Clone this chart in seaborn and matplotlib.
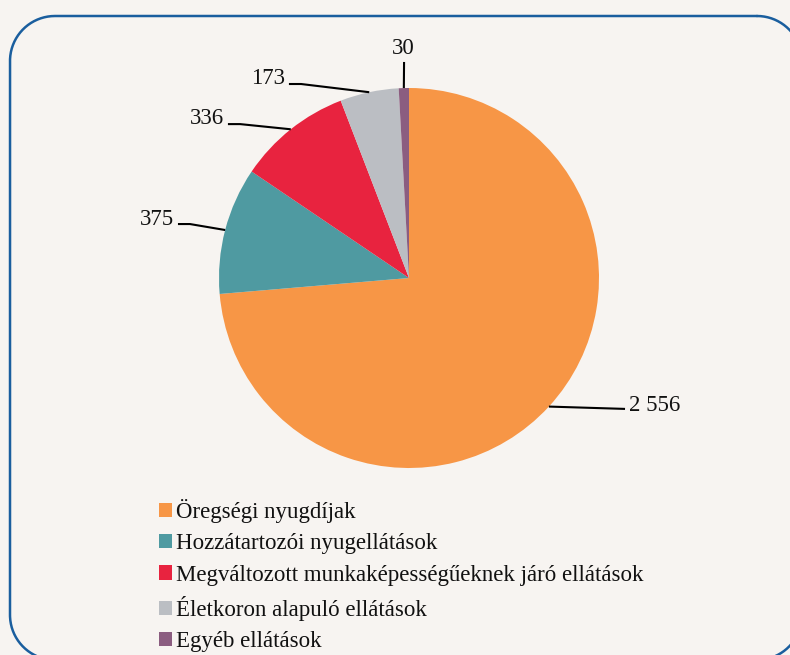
import matplotlib
matplotlib.use("Agg")
import matplotlib.pyplot as plt
import seaborn as sns
import numpy as np
from matplotlib.patches import Patch
from matplotlib.lines import Line2D

categories = ["Öregségi nyugdíjak", "Hozzátartozói nyugellátások",
              "Megváltozott munkaképességűeknek járó ellátások",
              "Életkoron alapuló ellátások", "Egyéb ellátások"]
values = [2556, 375, 336, 173, 30]
value_labels = ["2 556", "375", "336", "173", "30"]
colors = ["#F79646", "#4F9AA1", "#E8233F", "#BBBEC3", "#8B5D80"]

# layout for labels: (elbow_x, elbow_y, end_x, end_y, text_x, text_y, ha)
label_layout = [
    (1.137, -0.689, 1.137, -0.689, 1.16, -0.672, "left"),
    (-1.153, 0.284, -1.216, 0.284, -1.235, 0.31, "right"),
    (-0.889, 0.81, -0.953, 0.81, -0.975, 0.84, "right"),
    (-0.568, 1.021, -0.632, 1.021, -0.652, 1.05, "right"),
    (-0.026, 1.137, -0.026, 1.137, -0.032, 1.21, "center"),
]

sns.set_theme(style="white")
bg = "#F7F4F1"
plt.rcParams["font.family"] = ["Liberation Serif", "DejaVu Serif"]

W, H = 790, 655
fig = plt.figure(figsize=(W / 100, H / 100), dpi=100, facecolor=bg)
ax = fig.add_axes([0, 0, 1, 1])
ax.set_facecolor(bg)

cx, cy, R = 409, 278, 190
wedges, _ = ax.pie(values, colors=colors, startangle=90, counterclock=False,
                   radius=1, center=(0, 0), wedgeprops=dict(linewidth=0))
ax.set_aspect("auto")
ax.set_xlim((0 - cx) / R, (W - cx) / R)
ax.set_ylim((cy - H) / R, cy / R)
ax.axis("off")

for w, lab, lay in zip(wedges, value_labels, label_layout):
    mid = np.deg2rad((w.theta1 + w.theta2) / 2)
    ex, ey = np.cos(mid), np.sin(mid)
    bx, by, tx, ty, lx, ly, ha = lay
    ax.plot([ex, bx, tx], [ey, by, ty], color="black", lw=1.5,
            solid_capstyle="butt")
    ax.text(lx, ly, lab, ha=ha, va="center", fontsize=16.5, color="#111111")

handles = [Patch(facecolor=c, edgecolor="none") for c in colors]
leg = fig.legend(handles, categories, loc="upper left",
                 bbox_to_anchor=(159 / W, 1 - 499 / H),
                 frameon=False, fontsize=16.5, handlelength=0.58,
                 handleheight=0.58, handletextpad=0.18, labelspacing=0.45,
                 borderpad=0, borderaxespad=0)
for t in leg.get_texts():
    t.set_color("#111111")

# rounded frame in pixel coordinates (y down), sampled as a polyline
x0, x1, y0, y1, r = 10, 802, 16, 660, 45
pts = []
for (ccx, ccy, a0, a1) in [(x1 - r, y0 + r, -90, 0), (x1 - r, y1 - r, 0, 90),
                           (x0 + r, y1 - r, 90, 180), (x0 + r, y0 + r, 180, 270)]:
    t = np.deg2rad(np.linspace(a0, a1, 40))
    pts += list(zip(ccx + r * np.cos(t), ccy + r * np.sin(t)))
pts.append(pts[0])
px = np.array([p[0] for p in pts]) / W
py = 1 - np.array([p[1] for p in pts]) / H
fig.add_artist(Line2D(px, py, transform=fig.transFigure, color="#1A5E9E",
                      lw=1.8, solid_joinstyle="round"))

fig.savefig("out.png", dpi=100, facecolor=bg)
